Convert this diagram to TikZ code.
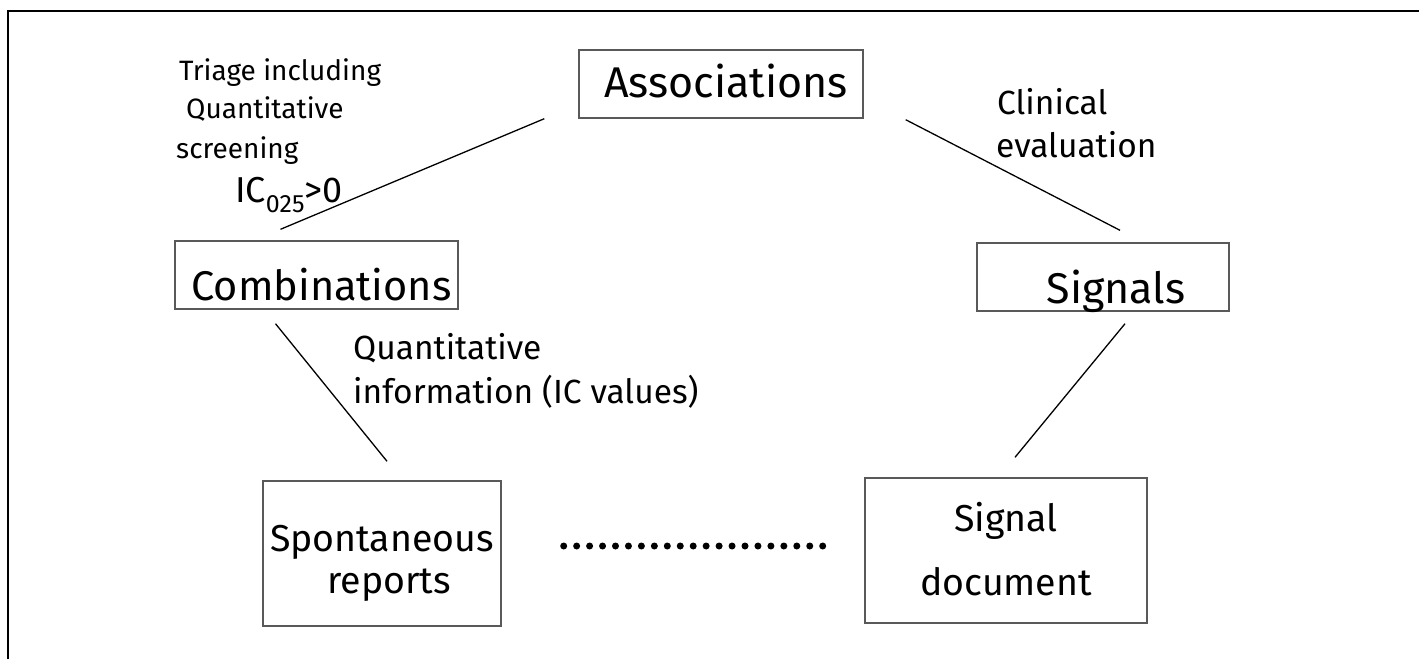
\documentclass[tikz,border=0pt]{standalone}
\usepackage{fontspec}
\setmainfont{Fira Sans}
\usetikzlibrary{calc}
\begin{document}
\begin{tikzpicture}[x=1pt,y=-1pt,
  box/.style={draw=black!65,line width=1.4pt,inner sep=0pt},
  conn/.style={draw=black,line width=1.3pt},
  lbl/.style={inner sep=0pt,anchor=base west,font=\fontsize{28}{32}\selectfont},
  midlbl/.style={lbl,font=\fontsize{33.5}{38}\selectfont},
  big/.style={inner sep=0pt,anchor=base,font=\fontsize{43}{50}\selectfont},
  bigb/.style={big,font=\fontsize{37.5}{44}\selectfont}]
\useasboundingbox (0,0) rectangle (1419,659);
\fill[white] (0,0) rectangle (1419,659);
\draw[line width=2.5pt] (8,659) -- (8,11) -- (1419,11);
% boxes
\node[box,minimum width=284pt,minimum height=68pt] (assoc) at (721,84) {};
\node[box,minimum width=283pt,minimum height=68pt] (comb) at (316.5,275) {};
\node[box,minimum width=252pt,minimum height=68pt] (sig) at (1103,277) {};
\node[box,minimum width=238pt,minimum height=145pt] (spont) at (382,553.5) {};
\node[box,minimum width=282pt,minimum height=145pt] (sdoc) at (1006,550.5) {};
% box texts
\node[big] (tassoc) at (726,97) {Associations};
\node[big,font=\fontsize{41.5}{48}\selectfont] (tcomb) at (321.5,300) {Combinations};
\node[big] (tsig) at (1116,303) {Signals};
\node[bigb] (tspont1) at (382,551) {Spontaneous};
\node[bigb] (tspont2) at (389,593) {reports};
\node[bigb] (tsdoc1) at (1006,531) {Signal};
\node[bigb] (tsdoc2) at (1006,595) {document};
% labels
\node[lbl] (l1) at (179,80) {Triage including};
\node[lbl] (l2) at (186,118) {Quantitative};
\node[lbl] (l3) at (176,158) {screening};
\node[lbl,font=\fontsize{36}{40}\selectfont] (l4) at (235,202) {IC\raisebox{-10pt}{\fontsize{25}{28}\selectfont 025}>0};
\node[midlbl] (l5) at (997,114) {Clinical};
\node[midlbl] (l6) at (996,157) {evaluation};
\node[midlbl] (l7) at (353,359) {Quantitative};
\node[midlbl] (l8) at (353,403) {information (IC values)};
% connectors
\draw[conn] ($(assoc.south west)+(-34,0)$) -- ($(comb.north)+(-36,-11)$);
\draw[conn] ($(assoc.south east)+(42,1)$) -- ($(sig.north)+(17,-12)$);
\draw[conn] ($(comb.south)+(-41,14)$) -- ($(spont.north)+(5,-19)$);
\draw[conn] ($(sig.south)+(22,12)$) -- ($(sdoc.north)+(9,-20)$);
\draw[line width=7pt,line cap=round,dash pattern=on 0pt off 12.95pt]
  ($(spont.east)+(62,-7.5)$) -- ($(sdoc.west)+(-30,-4.5)$);
\end{tikzpicture}
\end{document}
